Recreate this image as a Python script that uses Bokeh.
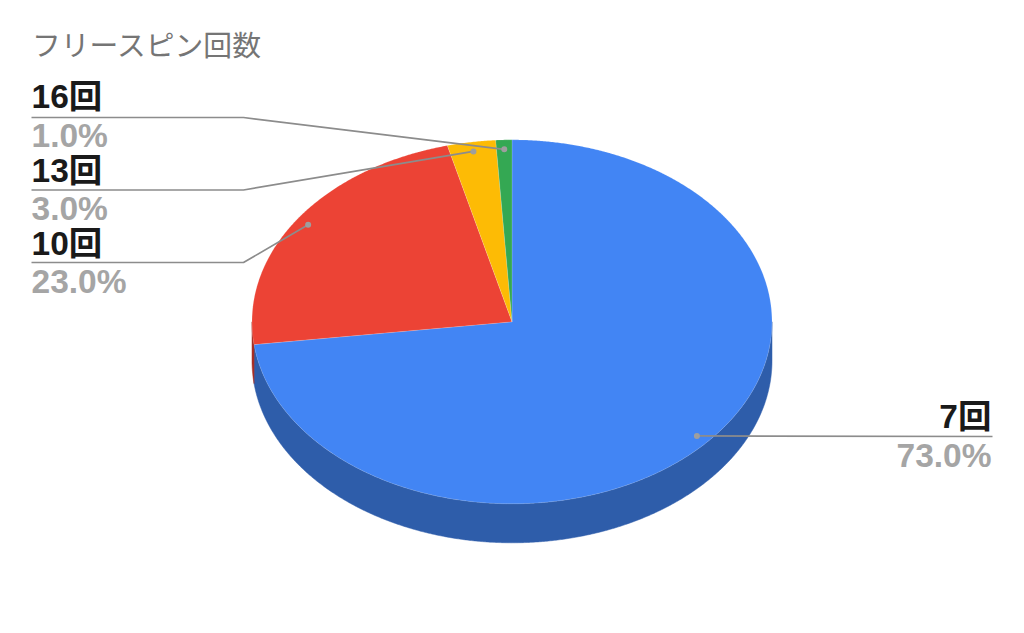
import numpy as np
from bokeh.plotting import figure
from bokeh.models import Range1d
from bokeh.core.properties import value
from bokeh.embed import file_html
from bokeh.resources import INLINE

title = "フリースピン回数"
categories = ["7回", "10回", "13回", "16回"]
shares = [73.0, 23.0, 3.0, 1.0]
colors = ["#4285f4", "#ec4335", "#fdbb05", "#34a853"]
side_colors = ["#2e5daa", "#a62f25", "#b18303", "#24753a"]

# layout only
CX, CY, RX, RY, DEPTH = 511.5, 321.3, 260.0, 182.0, 39.0
ANCHOR = 0.948
ELBOW_X = 243.0
LEFT_X, RIGHT_X = 31.0, 992.0
leader_y = [436.0, 262.0, 189.5, 117.0]
TEXT_SHIFT = 12.0
name_base = [428.0, 255.0, 182.0, 108.0]
pct_base = [467.0, 293.0, 220.0, 147.0]
label_font = "Liberation Sans, 'Noto Sans CJK JP'"

p = figure(width=1008, height=617, output_backend="svg", toolbar_location=None,
           x_range=Range1d(0, 1008), y_range=Range1d(617, 0),
           min_border=0, outline_line_color=None)
p.axis.visible = False
p.grid.visible = False
p.background_fill_color = "white"
p.border_fill_color = "white"


def arc(a0, a1):
    t = np.radians(np.linspace(a0, a1, max(int(abs(a1 - a0) * 3), 2)))
    return CX + RX * np.sin(t), CY - RY * np.cos(t)


edges = np.concatenate([[0.0], np.cumsum(shares)]) * 3.6
mids = (edges[:-1] + edges[1:]) / 2

# extruded wall (visible part: lower half of the ellipse)
for a0, a1, c in zip(edges[:-1], edges[1:], side_colors):
    lo, hi = max(a0, 90.0), min(a1, 270.0)
    if lo < hi:
        x, y = arc(lo, hi)
        p.patch(np.concatenate([x, x[::-1]]), np.concatenate([y, y[::-1] + DEPTH]),
                fill_color=c, line_color=c, line_width=0.5)

# top face
for a0, a1, c in zip(edges[:-1], edges[1:], colors):
    x, y = arc(a0, a1)
    p.patch(np.concatenate([[CX], x]), np.concatenate([[CY], y]),
            fill_color=c, line_color="#ffffff", line_alpha=0.3, line_width=0.5)

# leaders
ax = CX + ANCHOR * RX * np.sin(np.radians(mids))
ay = CY - ANCHOR * RY * np.cos(np.radians(mids))
xs, ys = [], []
for i in range(len(categories)):
    if ax[i] > CX + RX * 0.5:
        xs.append([ax[i], RIGHT_X]); ys.append([ay[i], leader_y[i]])
    else:
        xs.append([ax[i], ELBOW_X, LEFT_X]); ys.append([ay[i], leader_y[i], leader_y[i]])
p.multi_line(xs, ys, line_color="#8c8c8c", line_width=1.7)
p.scatter(ax, ay, size=6, fill_color="#9e9e9e", line_color=None)

# labels
for i, (name, pct) in enumerate(zip(categories, shares)):
    right = ax[i] > CX + RX * 0.5
    tx = RIGHT_X - 1 if right else LEFT_X
    align = "right" if right else "left"
    p.text([tx], [name_base[i] - TEXT_SHIFT], text=[name], text_font=value(label_font),
           text_font_size="33.5px", text_font_style="bold", text_color="#1a1a1a",
           text_align=align, text_baseline="alphabetic")
    p.text([tx], [pct_base[i] - TEXT_SHIFT], text=[f"{pct:.1f}%"], text_font=value(label_font),
           text_font_size="33.5px", text_font_style="bold", text_color="#a5a5a5",
           text_align=align, text_baseline="alphabetic")

p.text([31.5], [54.5 - TEXT_SHIFT], text=[title], text_font=value("Noto Sans CJK JP"),
       text_font_size="28.8px", text_color="#757575",
       text_align="left", text_baseline="alphabetic")

open("out.html", "w").write(file_html(p, INLINE))
